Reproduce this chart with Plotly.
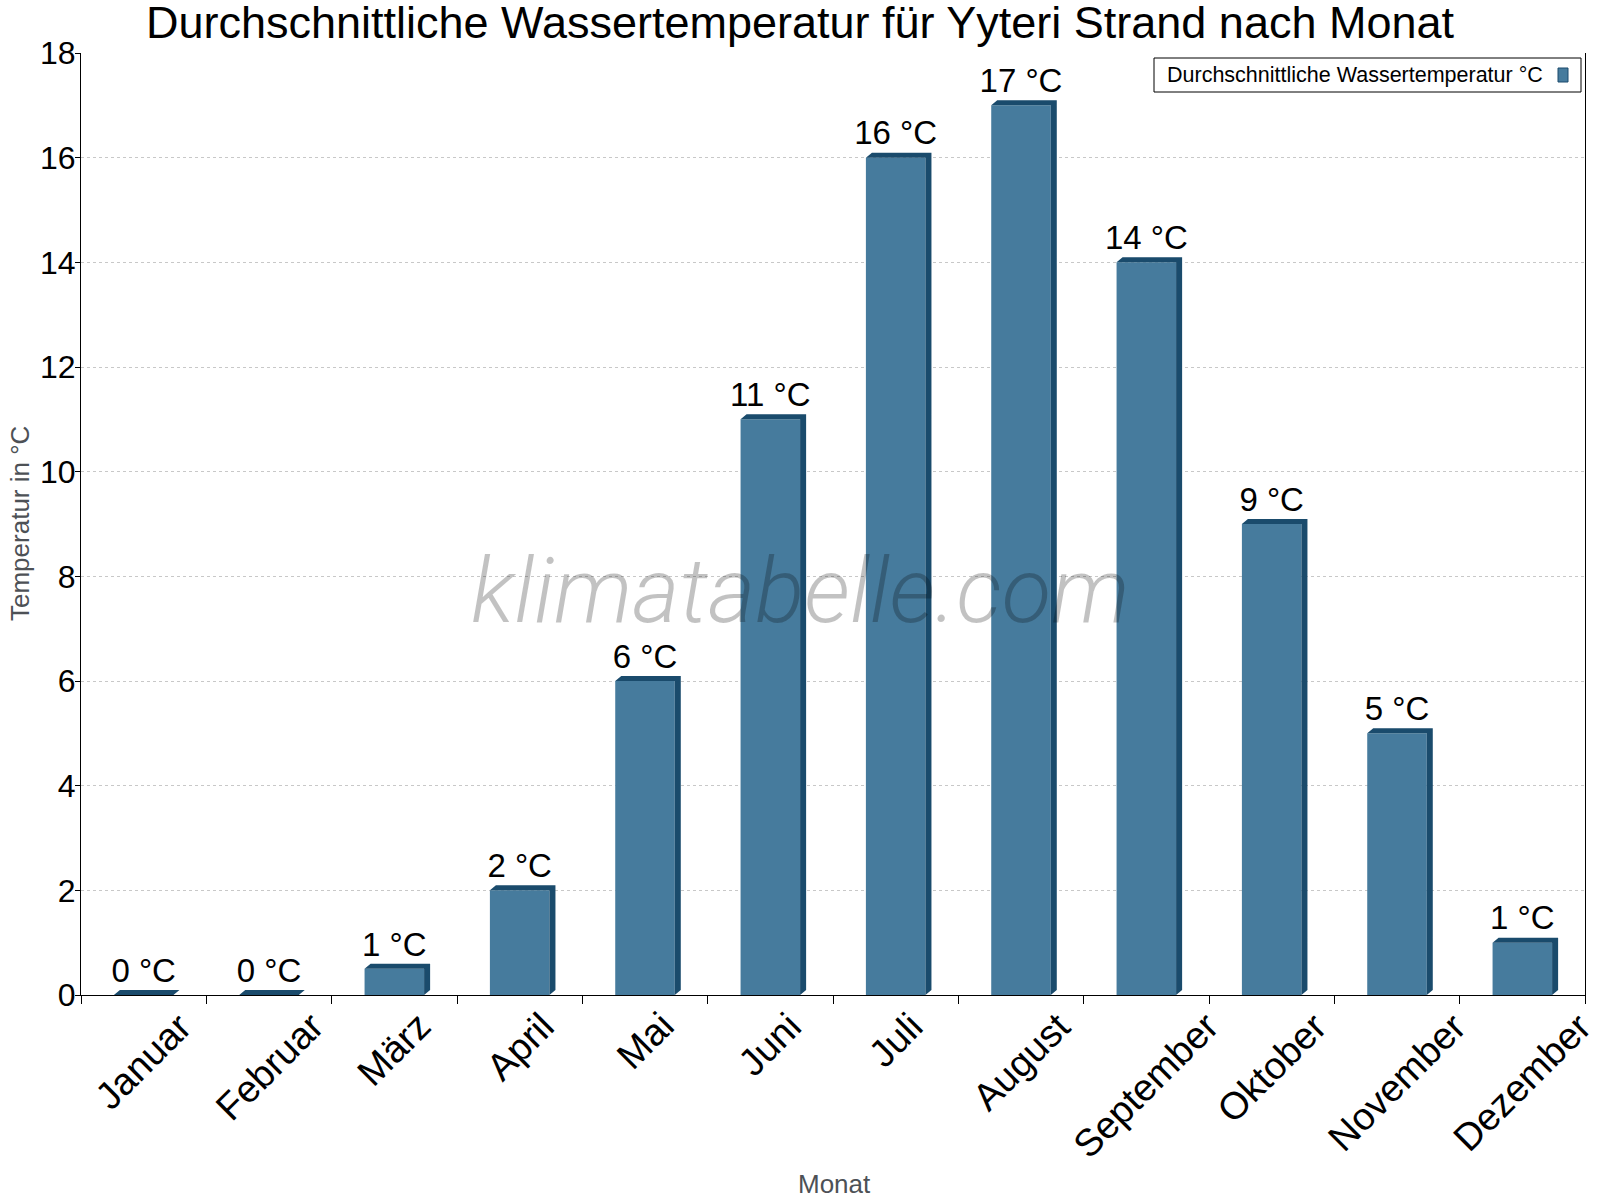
import plotly.graph_objects as go

# ---------------- data ----------------
months = ["Januar", "Februar", "März", "April", "Mai", "Juni", "Juli",
          "August", "September", "Oktober", "November", "Dezember"]
water_temp = [0, 0, 0.5, 2, 6, 11, 16, 17, 14, 9, 5, 1]      # bar heights
label_temp = [0, 0, 1, 2, 6, 11, 16, 17, 14, 9, 5, 1]        # printed labels
y_ticks = [0, 2, 4, 6, 8, 10, 12, 14, 16, 18]
series_name = "Durchschnittliche Wassertemperatur °C"
title_text = "Durchschnittliche Wassertemperatur für Yyteri Strand nach Monat"

# ---------------- style ----------------
FRONT = "#467b9d"
SIDE = "#1a4b6c"
FONT = "Liberation Sans, Arial, sans-serif"
BAR_W = 0.475   # front face width (category units)
DX = 0.048      # 3D depth in x (category units)
DY = 0.0955     # 3D depth in y (value units)

W, H = 1600, 1200
ML, MR, MT, MB = 81, 15, 53, 205
PW, PH = W - ML - MR, H - MT - MB


def pxx(p):
    return (p - ML) / PW


def pxy(p):
    return (H - MB - p) / PH


idx = list(range(len(months)))

# depth faces (top + right side) as closed polygons
poly_x, poly_y = [], []
for i, v in zip(idx, water_temp):
    L, R = i - BAR_W / 2, i + BAR_W / 2
    poly_x += [L, L + DX, R + DX, R + DX, R, R, L, None]
    poly_y += [v, v + DY, v + DY, DY, 0, v, v, None]

fig = go.Figure()
fig.add_trace(go.Bar(
    x=idx, y=water_temp, width=BAR_W, name=series_name,
    marker=dict(color=FRONT, line=dict(width=0)), showlegend=False,
    hoverinfo="skip",
))
fig.add_trace(go.Scatter(
    x=poly_x, y=poly_y, mode="lines", fill="toself", fillcolor=SIDE,
    line=dict(width=0, color=SIDE), showlegend=False, hoverinfo="skip",
))
fig.add_trace(go.Scatter(
    x=idx, y=[v + DY for v in water_temp], mode="text",
    text=[f"{t} °C" for t in label_temp], textposition="top center",
    textfont=dict(size=33, color="black", family=FONT),
    showlegend=False, hoverinfo="skip", cliponaxis=False,
))

fig.update_layout(
    width=W, height=H,
    margin=dict(l=ML, r=MR, t=MT, b=MB, autoexpand=False),
    paper_bgcolor="white", plot_bgcolor="white",
    font=dict(family=FONT, color="black"),
    barmode="overlay",
    title=dict(text=title_text, x=0.5, xanchor="center", xref="container",
               yref="container", y=1 - 38 / H, yanchor="bottom",
               font=dict(size=45, color="black", family=FONT)),
    xaxis=dict(
        range=[-0.5, 11.5], tickmode="array", tickvals=idx,
        showticklabels=False, ticks="", showline=True, linecolor="black",
        linewidth=1, showgrid=False, zeroline=False,
        minor=dict(tickmode="array", tickvals=[i - 0.5 for i in range(13)],
                   ticks="outside", ticklen=8, tickcolor="black",
                   tickwidth=1, showgrid=False),
    ),
    yaxis=dict(
        range=[0, 18], tickmode="array", tickvals=y_ticks, ticks="outside",
        ticklen=5, tickcolor="black", showline=True, linecolor="black",
        linewidth=1, mirror=True, showgrid=True, gridcolor="#c8c8c8",
        griddash="dot", gridwidth=1, zeroline=False,
        ticklabelstandoff=-7,
        tickfont=dict(size=32, color="black", family=FONT),
    ),
    showlegend=False,
)

# month labels, rotated and centred under each category
for i, m in zip(idx, months):
    fig.add_annotation(text=m, xref="x", yref="paper", x=i, y=0,
                       xanchor="center", yanchor="top", yshift=-7,
                       textangle=-45, showarrow=False,
                       font=dict(size=38, color="black", family=FONT))

# axis titles
fig.add_annotation(text="Temperatur in °C", xref="paper", yref="paper",
                   x=pxx(20), y=0.5, xanchor="center", yanchor="middle",
                   textangle=-90, showarrow=False,
                   font=dict(size=26, color="#4d5156", family=FONT))
fig.add_annotation(text="Monat", xref="paper", yref="paper",
                   x=pxx(834), y=pxy(1184), xanchor="center", yanchor="middle",
                   showarrow=False,
                   font=dict(size=26, color="#4d5156", family=FONT))

# watermark
fig.add_annotation(text="klimatabelle.com", xref="paper", yref="paper",
                   x=pxx(800), y=pxy(591), xanchor="center", yanchor="middle",
                   showarrow=False,
                   font=dict(size=91, color="rgba(0,0,0,0.24)",
                             family="Roboto", style="italic", weight=300))

# legend box (text left, swatch right)
fig.add_shape(type="rect", xref="paper", yref="paper",
              x0=pxx(1154), x1=pxx(1581), y0=pxy(92), y1=pxy(58),
              line=dict(color="black", width=1), fillcolor="white", layer="above")
fig.add_annotation(text=series_name, xref="paper", yref="paper",
                   x=pxx(1165), y=pxy(75), xanchor="left", yanchor="middle",
                   showarrow=False,
                   font=dict(size=21.5, color="black", family=FONT))
fig.add_shape(type="rect", xref="paper", yref="paper",
              x0=pxx(1558), x1=pxx(1568), y0=pxy(82), y1=pxy(68),
              line=dict(color=SIDE, width=1), fillcolor=FRONT, layer="above")

fig.write_html("out.html")
